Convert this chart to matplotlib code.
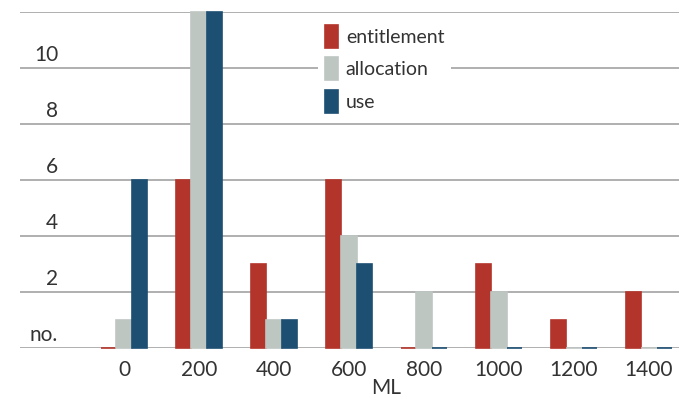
import numpy as np
import matplotlib
matplotlib.use('Agg')
from matplotlib import pyplot as plt

############## DATA ################

categories = ['0', '200', '400', '600', '800', '1000', '1200', '1400']
entitlement = [0, 6, 3, 6, 0, 3, 1, 2]
allocation = [1, 12, 1, 4, 2, 2, 0, 0]
use = [6, 12, 1, 3, 0, 0, 0, 0]
yticks = [0, 2, 4, 6, 8, 10, 12]
ylabels = ['no.', '2', '4', '6', '8', '10', '']

series = [('entitlement', entitlement, '#b3342a'),
          ('allocation', allocation, '#bec6c2'),
          ('use', use, '#1c4f72')]

############## PLOT ################

plt.rcParams['font.family'] = ['Lato', 'DejaVu Sans']
text_color = '#333333'

W, H = 679, 401
fig = plt.figure(figsize=(W / 100, H / 100), dpi=100)
ax = fig.add_axes([20 / W, (H - 348) / H, 1 - 20 / W, (348 - 12) / H])

x = np.arange(len(categories))
width = 0.207

# gridlines drawn by hand so they sit under the bars
for v in yticks:
    ax.axhline(v, color='#a9a9a9', linewidth=1.3, zorder=0)

handles = []
for i, (name, vals, color) in enumerate(series):
    # thin edge keeps zero-height bars visible as a short line
    b = ax.bar(x + (i - 1) * width, vals, width, color=color,
               edgecolor=color, linewidth=1.2, label=name, zorder=2,
               clip_on=False)
    handles.append(b)

ax.set_xlim(-1.387, 7.4)
ax.set_ylim(0, 12)

for s in ax.spines.values():
    s.set_visible(False)
ax.set_yticks([])
ax.set_xticks(x)
ax.set_xticklabels(categories, fontsize=15, color=text_color)
ax.tick_params(axis='x', length=0, pad=9)

# y labels sit just above their gridline
for v, lab in zip(yticks, ylabels):
    ax.text(-0.88, v + 0.12, lab, ha='right', va='bottom',
            fontsize=15, color=text_color)

ax.text(3.5, -1.43, 'ML', ha='center', va='center', fontsize=15,
        color=text_color, clip_on=False)

fs = 14
leg = ax.legend(handles=handles, loc='upper left',
                bbox_to_anchor=(318 / W, 1 - 18 / H),
                bbox_transform=fig.transFigure,
                fontsize=fs, frameon=True, fancybox=False,
                handlelength=0.67, handleheight=1.443,
                handletextpad=0.41, labelspacing=0.49,
                borderpad=0.35, borderaxespad=0)
leg.get_frame().set_facecolor('white')
leg.get_frame().set_edgecolor('none')
leg.get_frame().set_alpha(1)
for t in leg.get_texts():
    t.set_color(text_color)

plt.savefig('out.png', dpi=100)
plt.close()
